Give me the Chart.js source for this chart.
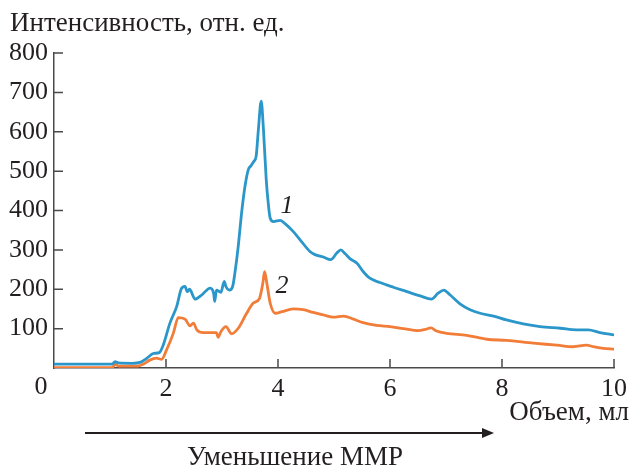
<!DOCTYPE html>
<html>
<head>
<meta charset="utf-8">
<script src="https://cdn.jsdelivr.net/npm/chart.js@4"></script>
<style>
  html, body { margin: 0; padding: 0; background: #fff; }
  #wrap { width: 629px; height: 466px; }
</style>
</head>
<body>
<div id="wrap"><canvas id="elutionChart" width="629" height="466"></canvas></div>
<script>
// Curve 1 (blue) and curve 2 (orange)
const volume1 = [0, 0.5, 1.0, 1.05, 1.09, 1.15, 1.4, 1.55, 1.65, 1.78, 1.88, 1.95, 2.07, 2.19, 2.28, 2.34, 2.38, 2.42, 2.52, 2.64, 2.79, 2.85, 2.87, 2.9, 2.98, 3.04, 3.07, 3.13, 3.19, 3.23, 3.29, 3.35, 3.41, 3.47, 3.52, 3.57, 3.61, 3.65, 3.70, 3.74, 3.79, 3.82, 3.86, 3.92, 4.04, 4.13, 4.27, 4.42, 4.57, 4.66, 4.81, 4.94, 5.05, 5.12, 5.2, 5.29, 5.41, 5.52, 5.64, 5.82, 6.06, 6.3, 6.54, 6.74, 6.86, 6.96, 7.07, 7.25, 7.43, 7.61, 7.85, 8.08, 8.38, 8.68, 9.04, 9.33, 9.54, 9.75, 10];
const intensity1 = [10, 10, 10, 11, 16, 13, 12, 15, 24, 37, 39, 58, 114, 156, 203, 207, 194, 200, 175, 186, 203, 190, 169, 198, 192, 220, 207, 198, 207, 241, 309, 394, 461, 504, 514, 525, 538, 606, 678, 606, 478, 427, 381, 372, 375, 366, 347, 321, 296, 288, 282, 275, 292, 300, 290, 277, 266, 245, 228, 217, 205, 194, 183, 175, 190, 198, 186, 163, 148, 139, 132, 122, 112, 105, 101, 97, 97, 90, 84];

const volume2 = [0, 0.5, 1.0, 1.05, 1.09, 1.15, 1.5, 1.6, 1.71, 1.83, 1.92, 2.01, 2.13, 2.22, 2.34, 2.43, 2.49, 2.55, 2.67, 2.9, 2.93, 2.98, 3.07, 3.17, 3.29, 3.44, 3.56, 3.67, 3.73, 3.76, 3.8, 3.86, 3.95, 4.07, 4.27, 4.45, 4.63, 4.81, 4.99, 5.17, 5.35, 5.52, 5.76, 6.0, 6.24, 6.51, 6.63, 6.73, 6.83, 7.01, 7.37, 7.73, 8.08, 8.56, 8.98, 9.27, 9.51, 9.63, 9.81, 10];
const intensity2 = [1, 1, 1, 2, 10, 5, 5, 10, 20, 25, 22, 46, 88, 128, 124, 107, 114, 97, 90, 90, 78, 92, 105, 87, 101, 139, 165, 177, 216, 245, 216, 165, 139, 143, 150, 148, 141, 135, 129, 132, 124, 115, 108, 105, 100, 95, 98, 102, 94, 88, 83, 73, 70, 63, 58, 54, 58, 54, 50, 48];

const xTicks = [0, 2, 4, 6, 8, 10];
const yTicks = [0, 100, 200, 300, 400, 500, 600, 700, 800];

const SERIF = '"Liberation Serif", "DejaVu Serif", serif';
const AXIS_COLOR = '#4a4a4a';
const TEXT_COLOR = '#231f20';

function toPoints(xs, ys) {
    return xs.map((x, i) => ({ x: x, y: ys[i] }));
}

// Inward tick marks, axis captions, curve numbers and the arrow
const decorPlugin = {
    id: 'decor',
    afterDraw(chart) {
        const ctx = chart.ctx;
        const xs = chart.scales.x;
        const ys = chart.scales.y;
        const area = chart.chartArea;

        ctx.save();
        ctx.strokeStyle = AXIS_COLOR;
        ctx.lineWidth = 1.5;
        ctx.beginPath();
        xTicks.forEach(v => {
            if (v === 0) return;
            const px = xs.getPixelForValue(v);
            ctx.moveTo(px, area.bottom);
            ctx.lineTo(px, area.bottom - 9);
        });
        yTicks.forEach(v => {
            if (v === 0) return;
            const py = ys.getPixelForValue(v);
            ctx.moveTo(area.left, py);
            ctx.lineTo(area.left + 9, py);
        });
        ctx.stroke();

        ctx.fillStyle = TEXT_COLOR;
        ctx.font = '27px ' + SERIF;
        ctx.textBaseline = 'alphabetic';
        ctx.textAlign = 'left';
        ctx.fillText('Интенсивность, отн. ед.', 10, 31);
        ctx.textAlign = 'right';
        ctx.fillText('Объем, мл', 629, 420);
        ctx.textAlign = 'center';
        ctx.fillText('Уменьшение ММР', 295, 465);

        ctx.font = '26px ' + SERIF;
        ctx.fillText('0', 41, 394);

        ctx.font = 'italic 26px ' + SERIF;
        ctx.fillText('1', 287, 213);
        ctx.fillText('2', 282, 293);

        // arrow
        ctx.strokeStyle = '#231f20';
        ctx.lineWidth = 2;
        ctx.beginPath();
        ctx.moveTo(85, 433);
        ctx.lineTo(485, 433);
        ctx.stroke();
        ctx.fillStyle = '#231f20';
        ctx.beginPath();
        ctx.moveTo(494, 433);
        ctx.lineTo(482, 428);
        ctx.lineTo(482, 438);
        ctx.closePath();
        ctx.fill();
        ctx.restore();
    }
};

const ctx = document.getElementById('elutionChart').getContext('2d');
const elutionChart = new Chart(ctx, {
    type: 'line',
    data: {
        datasets: [
            {
                label: '1',
                data: toPoints(volume1, intensity1),
                borderColor: '#2b96c9',
                borderWidth: 2.8,
                pointRadius: 0,
                cubicInterpolationMode: 'monotone',
                fill: false,
            },
            {
                label: '2',
                data: toPoints(volume2, intensity2),
                borderColor: '#f17d39',
                borderWidth: 2.8,
                pointRadius: 0,
                cubicInterpolationMode: 'monotone',
                fill: false,
            },
        ],
    },
    options: {
        responsive: false,
        animation: false,
        layout: { padding: { left: 0, right: 15, top: 53, bottom: 0 } },
        plugins: {
            legend: { display: false },
            tooltip: { enabled: false },
        },
        scales: {
            x: {
                type: 'linear',
                min: 0,
                max: 10,
                afterFit: (scale) => {
                    scale.height = 98;
                    scale.paddingLeft = 0;
                    scale.paddingRight = 0;
                },
                afterBuildTicks: (scale) => { scale.ticks = xTicks.map(v => ({ value: v })); },
                grid: { display: false, drawTicks: false },
                border: { display: true, color: AXIS_COLOR, width: 1.5 },
                ticks: {
                    padding: 6,
                    color: TEXT_COLOR,
                    font: { family: SERIF, size: 26 },
                    maxRotation: 0,
                    callback: (v) => (v === 0 ? '' : String(v)),
                },
            },
            y: {
                min: 0,
                max: 800,
                afterFit: (scale) => {
                    scale.width = 54;
                    scale.paddingTop = 0;
                    scale.paddingBottom = 0;
                },
                afterBuildTicks: (scale) => { scale.ticks = yTicks.map(v => ({ value: v })); },
                grid: { display: false, drawTicks: false },
                border: { display: true, color: AXIS_COLOR, width: 1.5 },
                ticks: {
                    padding: 6,
                    color: TEXT_COLOR,
                    font: { family: SERIF, size: 26 },
                    callback: (v) => (v === 0 ? '' : String(v)),
                },
            },
        },
    },
    plugins: [decorPlugin],
});
</script>
</body>
</html>
